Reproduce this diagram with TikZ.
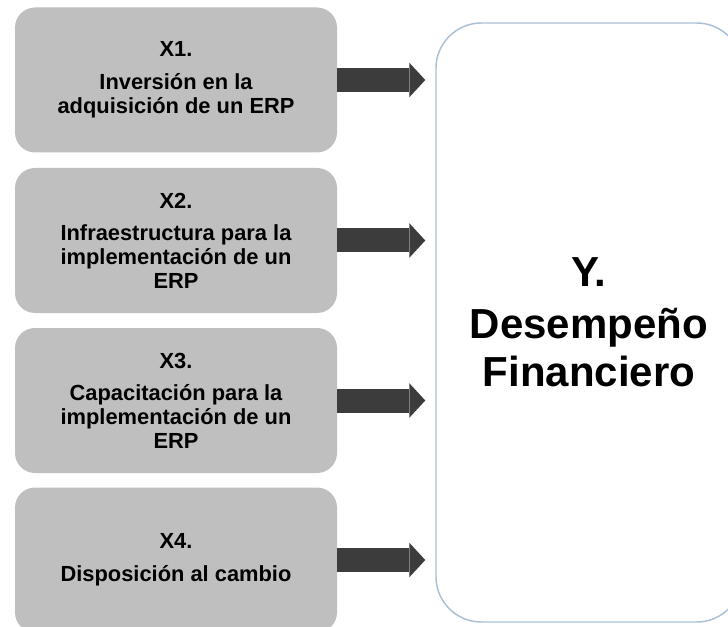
\documentclass[tikz,border=0pt]{standalone}
\usepackage{fontspec}
\setmainfont{Liberation Sans}
\usetikzlibrary{arrows.meta}
\definecolor{boxgray}{RGB}{191,191,191}
\definecolor{arrowgray}{RGB}{60,60,60}
\definecolor{yline}{RGB}{170,192,214}
\begin{document}
\begin{tikzpicture}[x=0.75pt,y=-0.75pt]
      \useasboundingbox (0,0) rectangle (728,627);
      \clip (0,0) rectangle (728,627);
      \begin{scope}[every node/.style={rectangle,rounded corners=15pt,fill=boxgray,minimum width=241.5pt,minimum height=108.75pt,align=center,font=\fontsize{16.4}{18}\selectfont\bfseries}]
        \node (x1) at (176,80) {X1.\\[7pt]Inversión en la\\adquisición de un ERP};
        \node (x2) at (176,240.5) {X2.\\[6pt]Infraestructura para la\\implementación de un\\ERP};
        \node (x3) at (176,400.5) {X3.\\[6pt]Capacitación para la\\implementación de un\\ERP};
        \node (x4) at (176,560) {X4.\\[7pt]Disposición al cambio};
      \end{scope}
      \node[draw=yline,line width=1.1pt,rounded corners=34pt,minimum width=229.5pt,minimum height=449.25pt,align=center,font=\fontsize{31.5}{36}\selectfont\bfseries] (y) at (589,322.5) {Y.\\[3pt]Desempeño\\Financiero};
      \begin{scope}[every edge/.style={draw=arrowgray,line width=18pt,-{Triangle[length=12pt,width=26pt,line width=0pt]},shorten >=7.5pt}]
        \path (x1.east) edge (x1.east -| y.west);
        \path (x2.east) edge (x2.east -| y.west);
        \path (x3.east) edge (x3.east -| y.west);
        \path (x4.east) edge (x4.east -| y.west);
      \end{scope}
    \end{tikzpicture}
\end{document}
